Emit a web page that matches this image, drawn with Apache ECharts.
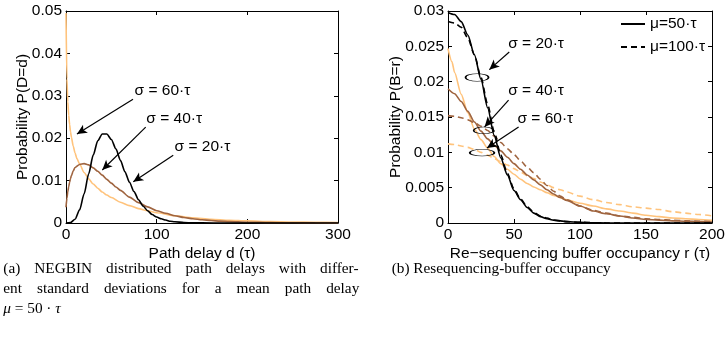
<!DOCTYPE html>
<html><head><meta charset="utf-8">
<script src="https://cdn.jsdelivr.net/npm/echarts/dist/echarts.min.js"></script>
<style>html,body{margin:0;padding:0;background:#fff}#c{width:725px;height:339px}</style>
</head><body><div id="c"></div>
<script>
// ---------- Left panel: NEGBIN path-delay distributions (mu = 50 tau) ----------
const leftXTicks = [0, 100, 200, 300];
const leftYTicks = [0, 0.01, 0.02, 0.03, 0.04, 0.05];

const delaySigma20 = [0,5,10,15,20,25,30,35,40,45,50,55,60,65,70,75,80,85,90,95,100,105,110,115,120,130,140,150,175,200,250,300];
const probSigma20  = [0,0.0001,0.0009,0.0031,0.0069,0.0116,0.0160,0.0194,0.0210,0.0210,0.0197,0.0175,0.0148,0.0121,0.0096,0.0074,0.0055,0.0040,0.0029,0.0020,0.0014,0.0010,0.0007,0.0004,0.0003,0.0001,0.00005,0.00002,0,0,0,0];

const delaySigma40 = [0,1,2,3,4,5,6,8,10,15,20,25,30,35,40,45,50,55,60,70,80,90,100,110,120,130,140,150,160,170,180,200,225,250,275,300];
const probSigma40  = [0.0037,0.0058,0.0074,0.0086,0.0096,0.0105,0.0112,0.0123,0.0131,0.0138,0.0140,0.0137,0.0130,0.0122,0.0113,0.0103,0.0094,0.0085,0.0077,0.0061,0.0048,0.0038,0.0029,0.0023,0.0017,0.0013,0.0010,0.00076,0.00058,0.00044,0.00033,0.00019,0.0001,0.00005,0.00002,0.00001];

const delaySigma60 = [0,1,2,3,4,5,6,8,10,12,15,20,25,30,35,40,45,50,60,70,80,90,100,120,140,160,180,200,225,250,275,300];
const probSigma60  = [0.0495,0.0340,0.0286,0.0254,0.0232,0.0215,0.0202,0.0181,0.0165,0.0152,0.0139,0.0119,0.0104,0.0092,0.0082,0.0073,0.0066,0.0060,0.0049,0.0041,0.0034,0.0029,0.0024,0.0017,0.00125,0.0009,0.00066,0.00049,0.00033,0.00023,0.00016,0.0001];

// ---------- Right panel: resequencing-buffer occupancy ----------
const rightXTicks = [0, 50, 100, 150, 200];
const rightYTicks = [0, 0.005, 0.01, 0.015, 0.02, 0.025, 0.03];

const occS20 = [0,5,10,15,20,25,30,35,40,45,50,55,60,65,70,75,80,90,100,110,120,140,160,180,200];
const buf_mu50_s20  = [0.0298,0.0295,0.0285,0.0266,0.0238,0.0203,0.0163,0.0124,0.0092,0.0068,0.0046,0.0033,0.0022,0.0014,0.0009,0.0006,0.0004,0.0002,0.0001,0.00004,0.00001,0,0,0,0];
const buf_mu100_s20 = [0.0285,0.0283,0.0277,0.0262,0.0238,0.0206,0.0168,0.0129,0.0096,0.0070,0.0048,0.0034,0.0023,0.0015,0.0010,0.0007,0.0004,0.0002,0.0001,0.00004,0.00001,0,0,0,0];

const occS40 = [0,5,10,15,20,25,30,35,40,45,50,55,60,65,70,75,80,85,90,100,110,120,130,140,150,160,170,180,190,200];
const buf_mu50_s40  = [0.0190,0.0183,0.0172,0.0158,0.0143,0.0130,0.0119,0.0110,0.0102,0.0093,0.0084,0.0076,0.0068,0.0061,0.0054,0.0047,0.0041,0.0036,0.0032,0.0024,0.0017,0.0013,0.0010,0.0007,0.0005,0.0004,0.0003,0.00025,0.0002,0.00015];
const buf_mu100_s40 = [0.0152,0.0151,0.0149,0.0146,0.0142,0.0137,0.0131,0.0123,0.0114,0.0105,0.0097,0.0088,0.0079,0.0071,0.0062,0.0053,0.0045,0.0038,0.0033,0.0024,0.0018,0.0014,0.0010,0.0008,0.0006,0.0005,0.0004,0.0003,0.00025,0.0002];

const occS60a = [0,3,5,10,15,20,25,30,35,40,45,50,55,60,65,70,75,80,90,100,110,120,130,140,150,160,170,180,190,200];
const buf_mu50_s60  = [0.0247,0.0228,0.0213,0.0182,0.0156,0.0133,0.0118,0.0106,0.0094,0.0084,0.0076,0.0069,0.0062,0.0056,0.0051,0.0047,0.0043,0.0039,0.0033,0.0028,0.0024,0.0020,0.0017,0.0014,0.0011,0.0009,0.0007,0.0006,0.0005,0.0004];
const occS60b = [0,5,10,15,20,25,30,35,40,45,50,55,60,65,70,75,80,85,90,100,110,120,130,140,150,160,170,180,190,200];
const buf_mu100_s60 = [0.0112,0.0111,0.0109,0.0107,0.0104,0.0100,0.0096,0.0091,0.0087,0.0082,0.0077,0.0072,0.0067,0.0063,0.0058,0.0054,0.0050,0.0047,0.0044,0.0038,0.0033,0.0029,0.0026,0.0023,0.0021,0.0019,0.0016,0.0014,0.0012,0.0010];

const legendNames = ['μ=50·τ', 'μ=100·τ'];
const sigmaLabels = ['σ = 20·τ', 'σ = 40·τ', 'σ = 60·τ'];

const capA1 = ['(a)','NEGBIN','distributed','path','delays','with','differ-'];
const capA2 = ['ent','standard','deviations','for','a','mean','path','delay'];
const capB = '(b) Resequencing-buffer occupancy';

// ---------- styling ----------
const FF = '"Liberation Sans", Arial, Helvetica, sans-serif';
const SERIF = '"Liberation Serif", "Times New Roman", serif';
const FS = 15.5;
const C_BLACK = '#000000', C_BROWN = '#9f643f', C_LIGHT = '#ffc37c';
const LW = 1.6;

function zip(xs, ys) { return xs.map((x, i) => [x, ys[i]]); }

function axisPair(grid, min, max, interval, name, nameGap, isY, pos) {
  const base = {
    gridIndex: grid, type: 'value', min: min, max: max, interval: interval,
    axisLine: { show: true, onZero: false, lineStyle: { color: '#000', width: 1 } },
    axisTick: { show: true, inside: true, length: 4, lineStyle: { color: '#000', width: 1 } },
    splitLine: { show: false }, minorTick: { show: false },
  };
  const main = Object.assign({}, base, {
    position: pos[0],
    axisLabel: { show: true, color: '#000', fontSize: FS, fontFamily: FF, margin: 4 },
    name: name, nameLocation: 'middle', nameGap: nameGap, nameMoveOverlap: false,
    nameRotate: isY ? 90 : 0,
    nameTextStyle: { color: '#000', fontSize: FS, fontFamily: FF }
  });
  const second = Object.assign({}, base, { position: pos[1], axisLabel: { show: false } });
  return [main, second];
}

const xAxes = [].concat(
  axisPair(0, 0, 300, 100, 'Path delay d (τ)', 23, false, ['bottom', 'top']),
  axisPair(1, 0, 200, 50, 'Re\u2212sequencing buffer occupancy r (τ)', 23, false, ['bottom', 'top'])
);
const yAxes = [].concat(
  axisPair(0, 0, 0.05, 0.01, 'Probability P(D=d)', 35, true, ['left', 'right']),
  axisPair(1, 0, 0.03, 0.005, 'Probability P(B=r)', 44, true, ['left', 'right'])
);

function lineSeries(name, xi, yi, data, color, dashed, extra) {
  return Object.assign({
    name: name, type: 'line', xAxisIndex: xi, yAxisIndex: yi,
    data: data, symbol: 'none', showSymbol: false, smooth: 0.25, smoothMonotone: 'x',
    lineStyle: { color: color, width: LW, type: dashed ? [6, 4] : 'solid' },
    itemStyle: { color: color }, silent: true, animation: false
  }, extra || {});
}

const ELLIPSE = 'path://M0 50A50 50 0 1 1 100 50A50 50 0 1 1 0 50Z';
function txt(coord, t) {
  return { coord: coord, symbol: 'circle', symbolSize: 0, itemStyle: { color: 'rgba(0,0,0,0)' },
    label: { show: true, position: 'inside', formatter: t, color: '#000', fontSize: FS, fontFamily: FF } };
}
function ell(coord, size) {
  return { coord: coord, symbol: ELLIPSE, symbolSize: size, symbolKeepAspect: false,
    itemStyle: { color: 'rgba(0,0,0,0)', borderColor: '#000', borderWidth: 1 }, label: { show: false } };
}
function arrow(a, b) { return [{ coord: a }, { coord: b }]; }
const arrowStyle = {
  silent: true, animation: false, symbol: ['none', 'arrow'], symbolSize: [7, 10],
  lineStyle: { color: '#000', width: 1.2, type: 'solid' }, label: { show: false },
  emphasis: { disabled: true }
};

const leftMarks = {
  markLine: Object.assign({}, arrowStyle, { data: [
    arrow([73.9, 0.0292], [12.1, 0.0210]),
    arrow([87.9, 0.0226], [40.0, 0.0125]),
    arrow([118.3, 0.0160], [74.2, 0.0097])
  ]}),
  markPoint: { silent: true, animation: false, data: [
    txt([106.4, 0.0311], sigmaLabels[2]),
    txt([119.3, 0.0245], sigmaLabels[1]),
    txt([150.5, 0.0180], sigmaLabels[0])
  ]}
};
const rightMarks = {
  markLine: Object.assign({}, arrowStyle, { data: [
    arrow([46.4, 0.0242], [31.3, 0.0217]),
    arrow([45.9, 0.0174], [27.7, 0.0136]),
    arrow([53.5, 0.0136], [29.5, 0.0106])
  ]}),
  markPoint: { silent: true, animation: false, data: [
    txt([66.7, 0.0254], sigmaLabels[0]),
    txt([66.7, 0.0187], sigmaLabels[1]),
    txt([73.7, 0.0148], sigmaLabels[2]),
    ell([22.0, 0.0206], [23, 7.5]),
    ell([27.0, 0.0131], [20, 6.7]),
    ell([25.8, 0.00995], [24.5, 6.7])
  ]}
};

const series = [
  lineSeries('σ60', 0, 0, zip(delaySigma60, probSigma60), C_LIGHT, false),
  lineSeries('σ40', 0, 0, zip(delaySigma40, probSigma40), C_BROWN, false),
  lineSeries('σ20', 0, 0, zip(delaySigma20, probSigma20), C_BLACK, false, leftMarks),
  lineSeries('r60b', 2, 2, zip(occS60b, buf_mu100_s60), C_LIGHT, true),
  lineSeries('r60a', 2, 2, zip(occS60a, buf_mu50_s60), C_LIGHT, false),
  lineSeries('r40b', 2, 2, zip(occS40, buf_mu100_s40), C_BROWN, true),
  lineSeries('r40a', 2, 2, zip(occS40, buf_mu50_s40), C_BROWN, false),
  lineSeries(legendNames[1], 2, 2, zip(occS20, buf_mu100_s20), C_BLACK, true),
  lineSeries(legendNames[0], 2, 2, zip(occS20, buf_mu50_s20), C_BLACK, false, rightMarks)
];

// ---------- captions (justified like the original typesetting) ----------
const ctx = document.createElement('canvas').getContext('2d');
const CAP_FONT = '15.3px ' + SERIF;
function measure(t) { ctx.font = CAP_FONT; return ctx.measureText(t).width; }
function justify(words, x0, x1, y) {
  const ws = words.map(measure);
  const tot = ws.reduce((a, b) => a + b, 0);
  const gap = (x1 - x0 - tot) / (words.length - 1);
  let x = x0;
  return words.map((w, i) => {
    const el = { type: 'text', x: x, y: y, silent: true,
      style: { text: w, font: CAP_FONT, fill: '#000', verticalAlign: 'middle', align: 'left' } };
    x += ws[i] + gap;
    return el;
  });
}
const graphics = [].concat(
  justify(capA1, 3.3, 358.5, 268.5),
  justify(capA2, 3.3, 359.3, 288.5),
  [
    { type: 'text', x: 3.3, y: 308.5, silent: true,
      style: { text: '{i|μ} = 50 · {i|τ}', font: CAP_FONT, fill: '#000', verticalAlign: 'middle',
        rich: { i: { fontStyle: 'italic', fontSize: 15.3, fontFamily: SERIF } } } },
    { type: 'text', x: 391.7, y: 268.5, silent: true,
      style: { text: capB, font: CAP_FONT, fill: '#000', verticalAlign: 'middle' } }
  ]
);

const chart = echarts.init(document.getElementById('c'), null, { renderer: 'canvas' });
chart.setOption({
  animation: false,
  backgroundColor: '#fff',
  textStyle: { fontFamily: FF },
  grid: [
    { left: 66, top: 11, width: 272, height: 212, containLabel: false, outerBoundsMode: 'none' },
    { left: 448, top: 11, width: 264, height: 212, containLabel: false, outerBoundsMode: 'none' }
  ],
  xAxis: xAxes,
  yAxis: yAxes,
  legend: {
    show: true, data: legendNames, orient: 'vertical', left: 620, top: 16,
    itemWidth: 24, itemHeight: 14, itemGap: 7, padding: 0, selectedMode: false,
    itemStyle: { color: 'rgba(0,0,0,0)', borderColor: 'rgba(0,0,0,0)', borderWidth: 0, opacity: 0 },
    textStyle: { color: '#000', fontSize: FS, fontFamily: FF }
  },
  tooltip: { show: false },
  series: series,
  graphic: graphics
});
</script></body></html>
